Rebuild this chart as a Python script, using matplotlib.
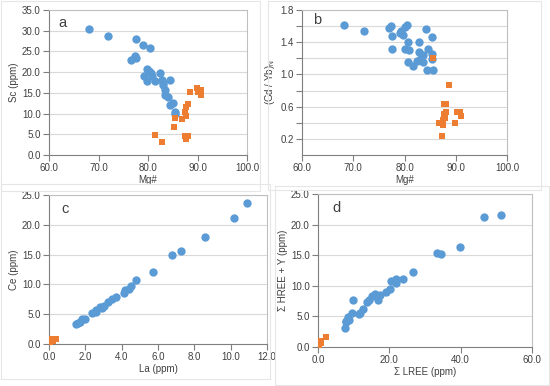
import numpy as np
import matplotlib
matplotlib.use("Agg")
import matplotlib.pyplot as plt
from matplotlib.patches import Rectangle

plt.rcParams['font.family'] = ['Liberation Sans', 'DejaVu Sans']

#%% data

# panel a : Mg# vs Sc
a_blue_x = [68.0, 71.9, 77.6, 78.9, 80.5, 77.4, 77.5, 76.6, 79.7, 80.7, 82.4, 79.2, 80.9, 79.7,
            81.5, 84.4, 83.0, 83.1, 83.4, 83.5, 84.0, 85.1, 84.5, 85.5, 85.4, 80.3, 82.8]
a_blue_y = [30.3, 28.8, 28.1, 26.5, 25.8, 24.0, 23.3, 23.0, 20.7, 19.9, 19.9, 19.1, 19.1, 17.9,
            17.9, 18.1, 17.5, 16.9, 15.6, 14.4, 14.1, 12.5, 12.0, 10.4, 9.9, 20.2, 18.0]
a_orng_x = [81.4, 82.8, 85.5, 85.3, 86.8, 87.6, 87.5, 87.7, 88.0, 88.5, 89.9, 90.7, 90.2,
            90.8, 87.4, 88.0, 87.7]
a_orng_y = [4.8, 3.1, 8.9, 6.7, 8.75, 9.4, 10.5, 11.7, 12.4, 15.3, 16.1, 15.7, 15.2,
            14.6, 4.7, 4.5, 3.9]

# panel b : Mg# vs (Gd/Yb)N
b_blue_x = [68.2, 72.1, 76.9, 77.4, 77.6, 77.5, 79.3, 79.1, 80.0, 80.5, 79.8, 80.7, 80.1, 80.9,
            80.7, 81.6, 82.8, 82.9, 82.5, 83.3, 83.7, 83.6, 84.1, 84.6, 84.4, 85.3, 85.4, 85.3, 85.5]
b_blue_y = [1.61, 1.54, 1.58, 1.60, 1.48, 1.31, 1.54, 1.51, 1.59, 1.61, 1.49, 1.40, 1.32, 1.30,
            1.15, 1.10, 1.40, 1.28, 1.17, 1.20, 1.24, 1.15, 1.56, 1.31, 1.06, 1.46, 1.26, 1.19, 1.06]
b_orng_x = [85.5, 88.6, 87.7, 88.1, 88.1, 87.7, 87.9, 87.6, 86.8, 87.5, 87.4, 90.2, 90.9, 91.0, 89.9]
b_orng_y = [1.21, 0.865, 0.63, 0.63, 0.54, 0.51, 0.46, 0.43, 0.40, 0.37, 0.23, 0.53, 0.53, 0.49, 0.40]

# panel c : La vs Ce
c_blue_x = [10.92, 10.19, 8.56, 7.27, 6.79, 5.75, 4.81, 4.53, 4.42, 4.16, 4.14, 3.70, 3.48, 3.24,
            3.00, 2.81, 2.59, 2.57, 2.35, 2.00, 1.79, 1.70, 1.62, 1.51, 2.90]
c_blue_y = [23.66, 21.09, 18.01, 15.6, 14.9, 12.1, 10.8, 9.79, 9.17, 9.06, 8.50, 7.83, 7.49, 6.99,
            6.32, 6.15, 5.70, 5.31, 5.15, 4.19, 4.25, 3.75, 3.47, 3.30, 6.0]
c_orng_x = [0.09, 0.41, 0.07, 0.22]
c_orng_y = [0.89, 0.84, 0.28, 0.56]

# panel d : sum LREE vs sum HREE + Y
d_blue_x = [51.4, 46.6, 39.9, 34.6, 33.4, 26.5, 23.7, 22.0, 22.0, 20.5, 20.2, 19.1, 17.4, 16.8,
            16.1, 15.0, 14.3, 13.7, 12.7, 11.9, 11.5, 9.9, 9.6, 8.6, 8.3, 7.9, 7.8, 7.5]
d_blue_y = [21.5, 21.3, 16.3, 15.2, 15.4, 12.2, 11.1, 11.1, 10.5, 10.8, 9.5, 9.0, 8.5, 7.7,
            8.7, 8.4, 7.6, 7.3, 6.2, 5.5, 5.4, 7.6, 5.6, 4.4, 4.9, 4.3, 4.1, 3.1]
d_orng_x = [2.2, 0.7, 0.4, 0.9]
d_orng_y = [1.6, 1.0, 0.3, 0.65]

BLUE = '#5B9BD5'
ORANGE = '#ED7D31'
TXT = '#404040'
GRID = '#D9D9D9'

W, H = 550, 386
fig = plt.figure(figsize=(W/100, H/100), dpi=100)

# chart-area frames (pixel boxes)
for (x0, y0, x1, y1) in [(1, 1, 260, 191), (268, 1, 541, 190), (1, 184, 270, 379), (275, 186, 549, 385)]:
    fig.patches.append(Rectangle((x0/W, 1-y1/H), (x1-x0)/W, (y1-y0)/H, transform=fig.transFigure,
                                 fill=False, edgecolor='#E6E6E6', lw=0.8))

def make_ax(px0, py0, px1, py1):
    return fig.add_axes([px0/W, 1-py1/H, (px1-px0)/W, (py1-py0)/H])

def style(ax, xlim, ylim, xticks, yticks, grid_y, xlabel, ylabel, letter, lpos):
    ax.set_xlim(xlim)
    ax.set_ylim(ylim)
    ax.set_xticks(xticks)
    ax.set_yticks(yticks)
    ax.xaxis.set_major_formatter(plt.FormatStrFormatter('%.1f'))
    ax.yaxis.set_major_formatter(plt.FormatStrFormatter('%.1f'))
    for g in grid_y:
        ax.axhline(g, color=GRID, lw=0.8, zorder=0)
    for s in ax.spines.values():
        s.set_color('#BFBFBF')
        s.set_linewidth(0.8)
    ax.spines['left'].set_color('#7F7F7F')
    ax.spines['bottom'].set_color('#7F7F7F')
    ax.tick_params(direction='out', length=4, width=0.8, color='#7F7F7F',
                   labelsize=7, labelcolor=TXT, pad=2)
    ax.set_xlabel(xlabel, fontsize=7, color=TXT, labelpad=1)
    ax.set_ylabel(ylabel, fontsize=7, color=TXT, labelpad=2)
    ax.text(lpos[0], lpos[1], letter, transform=ax.transAxes, fontsize=10.5,
            color=TXT, va='center', ha='left')

def pts(ax, bx, by, ox, oy):
    ax.scatter(bx, by, s=36, color=BLUE, marker='o', linewidths=0, zorder=3)
    ax.scatter(ox, oy, s=17, color=ORANGE, marker='s', linewidths=0, zorder=3)

# a
ax = make_ax(49, 10, 247, 155)
pts(ax, a_blue_x, a_blue_y, a_orng_x, a_orng_y)
style(ax, (60, 100), (0, 35), np.arange(60, 101, 10), np.arange(0, 36, 5), np.arange(5, 36, 5),
      'Mg#', 'Sc (ppm)', 'a', (0.045, 0.91))

# b
ax = make_ax(302, 10, 507, 155)
pts(ax, b_blue_x, b_blue_y, b_orng_x, b_orng_y)
style(ax, (60, 100), (0, 1.8), np.arange(60, 101, 10), [0.2, 0.6, 1.0, 1.4, 1.8],
      np.arange(0.2, 1.81, 0.2), 'Mg#', '(Gd / Yb)$_\\mathregular{N}$', 'b', (0.054, 0.93))
ax.set_yticks(np.arange(0.2, 1.81, 0.2), minor=True)
ax.tick_params(axis='y', which='minor', direction='out', length=4, width=0.8, color='#7F7F7F')

# c
ax = make_ax(49, 195, 267, 344)
pts(ax, c_blue_x, c_blue_y, c_orng_x, c_orng_y)
style(ax, (0, 12), (0, 25), np.arange(0, 13, 2), np.arange(0, 26, 5), np.arange(5, 26, 5),
      'La (ppm)', 'Ce (ppm)', 'c', (0.055, 0.906))

# d
ax = make_ax(318, 194, 532, 347)
pts(ax, d_blue_x, d_blue_y, d_orng_x, d_orng_y)
style(ax, (0, 60), (0, 25), np.arange(0, 61, 20), np.arange(0, 26, 5), np.arange(5, 26, 5),
      'Σ LREE (ppm)', 'Σ HREE + Y (ppm)', 'd', (0.066, 0.91))

fig.savefig('out.png', dpi=100)
